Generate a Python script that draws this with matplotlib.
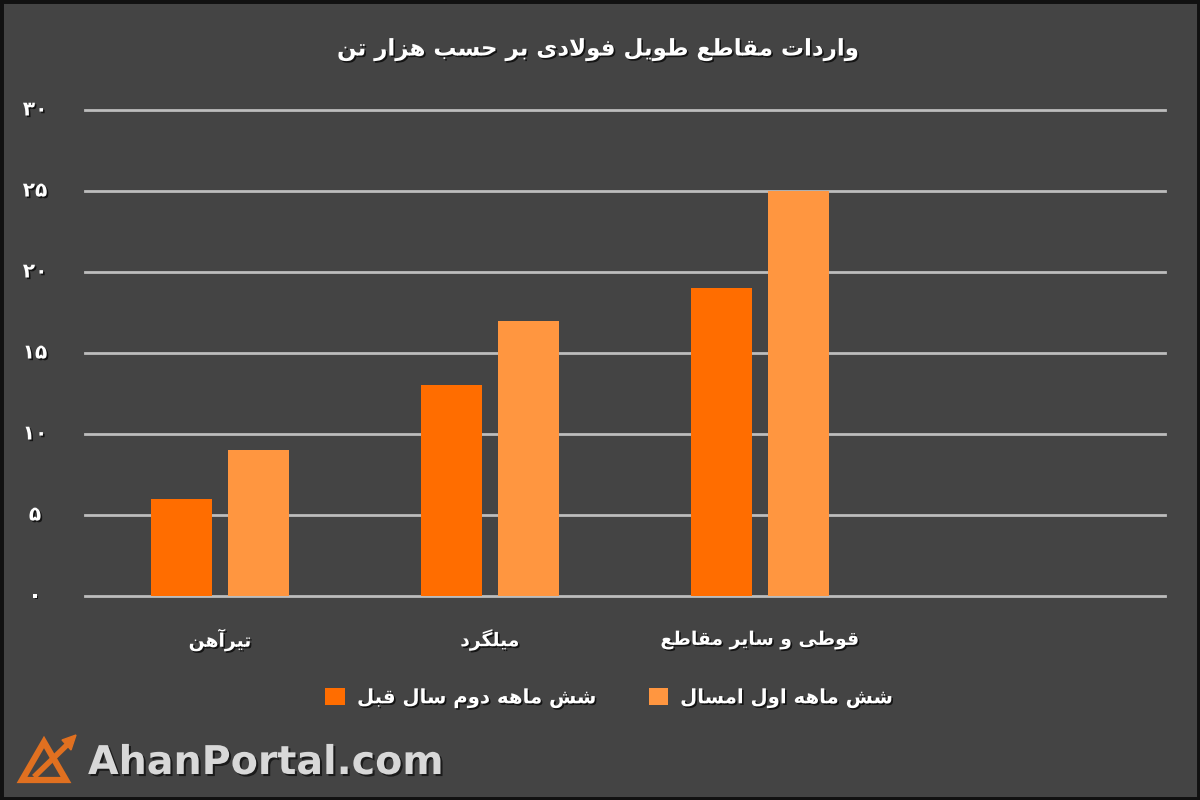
import matplotlib
matplotlib.use("Agg")
import matplotlib.pyplot as plt
import matplotlib.patheffects as pe
from matplotlib.patches import Polygon
import numpy as np

# data
title = "واردات مقاطع طویل فولادی بر حسب هزار تن"
categories = ["تیرآهن", "میلگرد", "قوطی و سایر مقاطع", ""]
series_names = ["شش ماهه دوم سال قبل", "شش ماهه اول امسال"]
prev_half = [6, 13, 19, None]
this_half = [9, 17, 25, None]
y_ticks = [0, 5, 10, 15, 20, 25, 30]
y_tick_labels = ["۰", "۵", "۱۰", "۱۵", "۲۰", "۲۵", "۳۰"]

DARK = "#ff6d00"
LIGHT = "#ff9640"
BG = "#444444"

# minimal arabic/persian shaping: (isolated, final, initial, medial)
FORMS = {
    "ا": (0xFE8D, 0xFE8E, None, None),
    "آ": (0xFE81, 0xFE82, None, None),
    "ب": (0xFE8F, 0xFE90, 0xFE91, 0xFE92),
    "ت": (0xFE95, 0xFE96, 0xFE97, 0xFE98),
    "ح": (0xFEA1, 0xFEA2, 0xFEA3, 0xFEA4),
    "د": (0xFEA9, 0xFEAA, None, None),
    "ر": (0xFEAD, 0xFEAE, None, None),
    "ز": (0xFEAF, 0xFEB0, None, None),
    "س": (0xFEB1, 0xFEB2, 0xFEB3, 0xFEB4),
    "ش": (0xFEB5, 0xFEB6, 0xFEB7, 0xFEB8),
    "ط": (0xFEC1, 0xFEC2, 0xFEC3, 0xFEC4),
    "ع": (0xFEC9, 0xFECA, 0xFECB, 0xFECC),
    "ف": (0xFED1, 0xFED2, 0xFED3, 0xFED4),
    "ق": (0xFED5, 0xFED6, 0xFED7, 0xFED8),
    "ل": (0xFEDD, 0xFEDE, 0xFEDF, 0xFEE0),
    "م": (0xFEE1, 0xFEE2, 0xFEE3, 0xFEE4),
    "ن": (0xFEE5, 0xFEE6, 0xFEE7, 0xFEE8),
    "ه": (0xFEE9, 0xFEEA, 0xFEEB, 0xFEEC),
    "و": (0xFEED, 0xFEEE, None, None),
    "ی": (0xFBFC, 0xFBFD, 0xFBFE, 0xFBFF),
    "گ": (0xFB92, 0xFB93, 0xFB94, 0xFB95),
}


def joins_next(ch):
    return ch in FORMS and FORMS[ch][2] is not None


def shape(text):
    chars = list(text)
    out = []
    i = 0
    n = len(chars)
    while i < n:
        ch = chars[i]
        prev = chars[i - 1] if i > 0 else ""
        connect_prev = joins_next(prev) and ch in FORMS
        # lam-alef ligature
        if ch == "ل" and i + 1 < n and chars[i + 1] == "ا":
            out.append(chr(0xFEFC if connect_prev else 0xFEFB))
            i += 2
            continue
        if ch not in FORMS:
            out.append(ch)
            i += 1
            continue
        nxt = chars[i + 1] if i + 1 < n else ""
        connect_next = joins_next(ch) and nxt in FORMS
        iso, fin, ini, med = FORMS[ch]
        if connect_prev and connect_next:
            out.append(chr(med))
        elif connect_prev:
            out.append(chr(fin))
        elif connect_next:
            out.append(chr(ini))
        else:
            out.append(chr(iso))
        i += 1
    return "".join(reversed(out))


FONT = "DejaVu Sans"
shadow = [pe.withSimplePatchShadow(offset=(1.2, -1.2), shadow_rgbFace="black", alpha=0.7)]

fig = plt.figure(figsize=(12, 8), dpi=100, facecolor=BG)
ax = fig.add_axes([85 / 1200, 1 - 596 / 800, 1080 / 1200, 486 / 800])
ax.set_facecolor(BG)

x = np.arange(len(categories))
w = 0.226
off = 0.144
prev_vals = [v if v is not None else 0 for v in prev_half]
this_vals = [v if v is not None else 0 for v in this_half]
ax.bar(x - off, prev_vals, w, color=DARK, zorder=3, label=shape(series_names[0]))
ax.bar(x + off, this_vals, w, color=LIGHT, zorder=3, label=shape(series_names[1]))

ax.set_xlim(-0.5, len(categories) - 0.5)
ax.set_ylim(0, 30)
ax.set_xticks([])
ax.set_yticks([])
for yv in y_ticks:
    ax.axhline(yv, color="#bdbdbd", linewidth=2, zorder=1, clip_on=False)
for s in ax.spines.values():
    s.set_visible(False)

for yv, lab in zip(y_ticks, y_tick_labels):
    ax.text(-0.685, yv, lab, ha="center", va="center", fontsize=14.5,
            fontweight="bold", color="white", family=FONT, path_effects=shadow)

for xi, cat in zip(x, categories):
    if cat:
        ax.text(xi, -2.7, shape(cat), ha="center", va="center", fontsize=13.5,
                fontweight="bold", color="white", family=FONT, path_effects=shadow)

fig.text(0.498, 1 - 50 / 800, shape(title), ha="center", va="center", fontsize=16.5,
         fontweight="bold", color="white", family=FONT, path_effects=shadow)

leg = fig.legend(loc="center", bbox_to_anchor=(0.508, 1 - 698 / 800), ncol=2,
                 frameon=False, handlelength=1.0, handleheight=1.0,
                 columnspacing=2.6, handletextpad=0.6,
                 prop={"family": FONT, "size": 14.2, "weight": "bold"})
for t in leg.get_texts():
    t.set_color("white")
    t.set_path_effects(shadow)

# watermark
fig.text(88 / 1200, 1 - 763 / 800, "AhanPortal.com", ha="left", va="center",
         fontsize=28.5, fontweight="bold", color="#d8d8d8", family=FONT,
         path_effects=[pe.withSimplePatchShadow(offset=(1.5, -1.5), shadow_rgbFace="black", alpha=0.6)])
fig.patches.append(Polygon([[22 / 1200, 1 - 780 / 800], [44 / 1200, 1 - 742 / 800],
                            [66 / 1200, 1 - 780 / 800]], closed=True, fill=False,
                           edgecolor="#e07020", linewidth=4.5, transform=fig.transFigure))
fig.lines.append(plt.Line2D([36 / 1200, 70 / 1200], [1 - 775 / 800, 1 - 742 / 800],
                            color="#e07020", linewidth=4, transform=fig.transFigure))
fig.patches.append(Polygon([[76 / 1200, 1 - 735 / 800], [62 / 1200, 1 - 740 / 800],
                            [71 / 1200, 1 - 750 / 800]], closed=True, color="#e07020",
                           transform=fig.transFigure))

# thin dark border
fig.patches.append(plt.Rectangle((0, 0), 1, 1, fill=False, edgecolor="#111111",
                                 linewidth=5, transform=fig.transFigure))

fig.savefig("out.png", dpi=100, facecolor=BG)
